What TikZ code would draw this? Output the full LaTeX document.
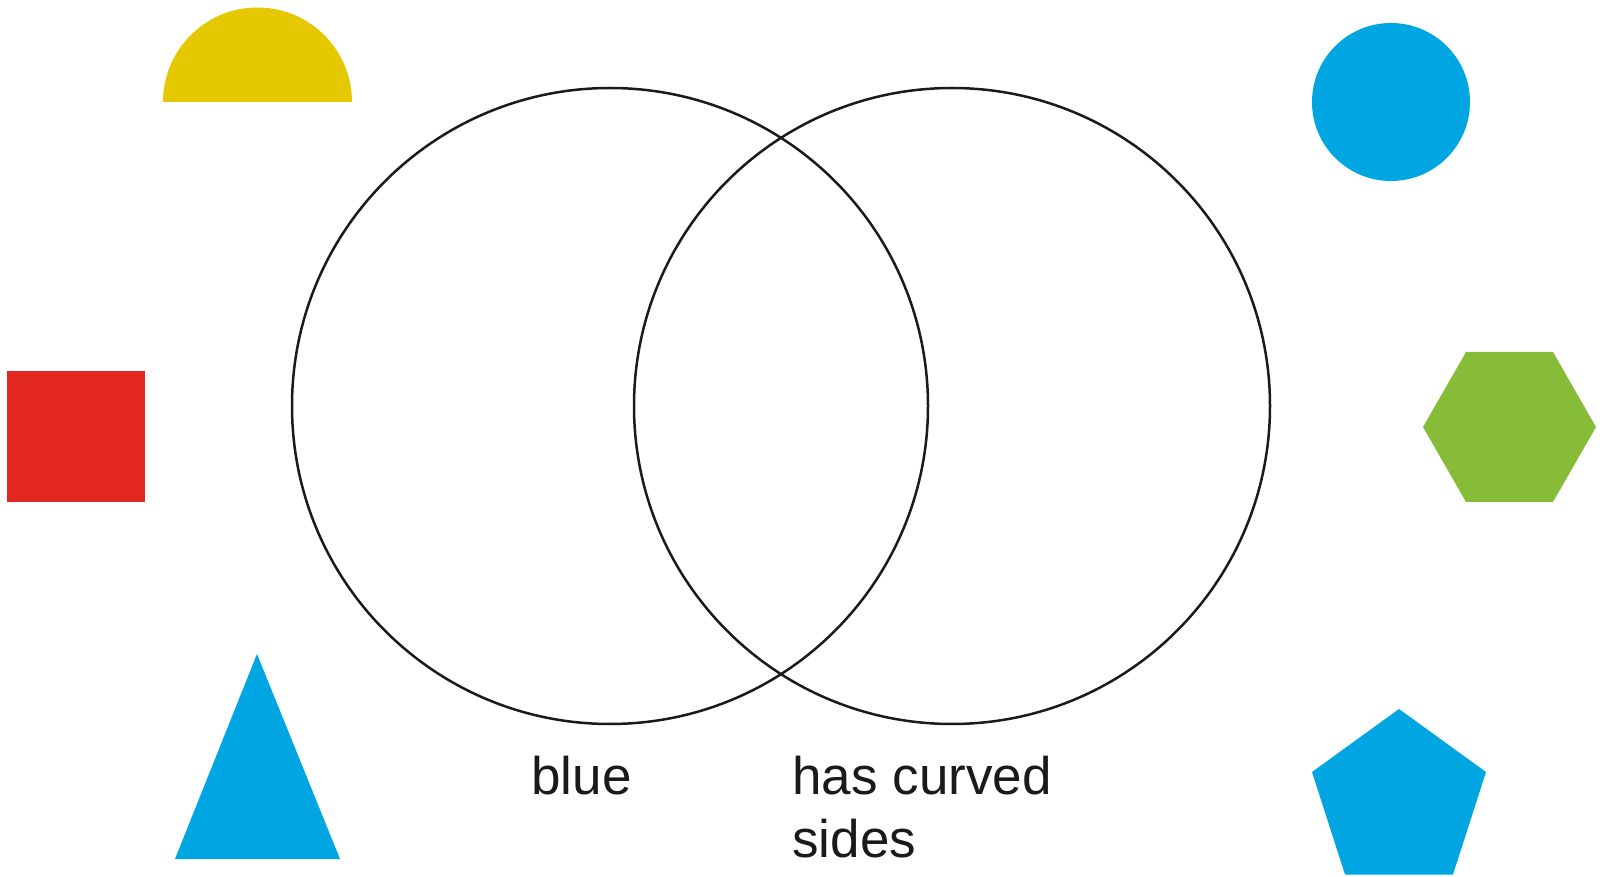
\documentclass[tikz,border=0pt]{standalone}
\usepackage{fontspec}
\setmainfont{Liberation Sans}
\usepackage{tikz}
\usetikzlibrary{positioning}
\definecolor{shapeblue}{HTML}{00A6E2}
\definecolor{shapered}{HTML}{E32822}
\definecolor{shapeyellow}{HTML}{E5C800}
\definecolor{shapegreen}{HTML}{86BC37}
\definecolor{ringline}{HTML}{1A1A1A}

\begin{document}
\begin{tikzpicture}[x=0.5pt,y=-0.5pt,
  ring/.style={draw=ringline,line width=1.25pt},
  setlabel/.style={text=ringline,inner sep=0pt,font=\fontsize{26.5}{31.35}\selectfont}]
\useasboundingbox (0,0) rectangle (1603,877);
% the two sets
\coordinate (leftset) at (610,406);
\coordinate (rightset) at (952,406);
\draw[ring] (leftset) circle (318);
\draw[ring] (rightset) circle (318);
\node[setlabel,anchor=base west] (blue) at (531,794) {blue};
\node[setlabel,anchor=base west,align=left] (curved) at (792,857) {has curved\\sides};
% shapes to sort
\fill[shapeyellow] (163,102) -- (352,102) arc[start angle=0,end angle=-180,radius=94.5] -- cycle;
\fill[shapered] (7,371) rectangle (145,502);
\fill[shapeblue] (257,654) -- (340,859) -- (175,859) -- cycle;
\fill[shapeblue] (1391,102) circle (79);
\fill[shapegreen] (1596,427) -- (1553,352) -- (1466,352) -- (1423,427) -- (1466,502) -- (1553,502) -- cycle;
\fill[shapeblue] (1399,709) -- (1486,772) -- (1453,874.5) -- (1345,874.5) -- (1312,772) -- cycle;
\end{tikzpicture}
\end{document}
